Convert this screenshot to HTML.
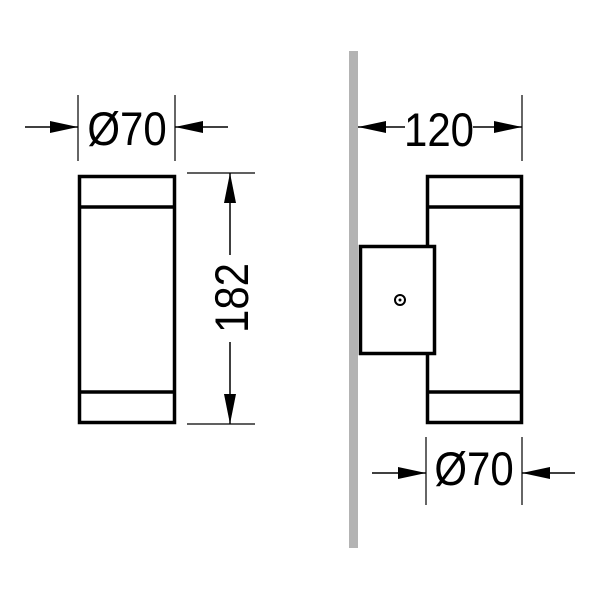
<!DOCTYPE html>
<html><head><style>body{margin:0;background:#fff}</style></head><body>
<svg width="600" height="600" xmlns="http://www.w3.org/2000/svg" style="display:block">
<rect x="0" y="0" width="600" height="600" fill="#fff"/>
<g font-family="Liberation Sans, sans-serif" font-size="42" fill="#000">
<!-- Left view -->
<rect x="79.5" y="176.5" width="95" height="246" fill="none" stroke="#000" stroke-width="3.5"/>
<line x1="79" y1="207" x2="175" y2="207" stroke="#000" stroke-width="3.5"/>
<line x1="79" y1="392" x2="175" y2="392" stroke="#000" stroke-width="3.5"/>
<line x1="78" y1="95" x2="78" y2="161" stroke="#000" stroke-width="1.2"/>
<line x1="175" y1="95" x2="175" y2="161" stroke="#000" stroke-width="1.2"/>
<line x1="25" y1="127" x2="78" y2="127" stroke="#000" stroke-width="1.5"/>
<polygon points="78,127 50,121 50,133"/>
<line x1="175" y1="127" x2="228" y2="127" stroke="#000" stroke-width="1.5"/>
<polygon points="175,127 203,121 203,133"/>
<text x="0" y="0" text-anchor="middle" transform="translate(127,145) scale(1,1.13)">Ø70</text>
<line x1="187" y1="173" x2="255" y2="173" stroke="#000" stroke-width="1.2"/>
<line x1="187" y1="424" x2="255" y2="424" stroke="#000" stroke-width="1.2"/>
<line x1="230" y1="173" x2="230" y2="255" stroke="#000" stroke-width="1.5"/>
<line x1="230" y1="342" x2="230" y2="424" stroke="#000" stroke-width="1.5"/>
<polygon points="230,173 224,203 236,203"/>
<polygon points="230,424 224,394 236,394"/>
<text x="0" y="0" text-anchor="middle" transform="translate(248,298) rotate(-90) scale(1,1.13)">182</text>
<!-- Wall -->
<rect x="349" y="51" width="9" height="497" fill="#b3b3b3"/>
<!-- Right view -->
<rect x="427.5" y="176.5" width="94" height="246" fill="#fff" stroke="#000" stroke-width="3.5"/>
<line x1="427" y1="207" x2="522" y2="207" stroke="#000" stroke-width="3.5"/>
<line x1="427" y1="392" x2="522" y2="392" stroke="#000" stroke-width="3.5"/>
<rect x="360.5" y="246.5" width="74" height="107" fill="#fff" stroke="#000" stroke-width="3.5"/>
<circle cx="400" cy="300" r="5" fill="none" stroke="#000" stroke-width="2"/>
<circle cx="400" cy="300" r="1.5"/>
<line x1="522" y1="95" x2="522" y2="161" stroke="#000" stroke-width="1.2"/>
<line x1="358" y1="127" x2="405" y2="127" stroke="#000" stroke-width="1.5"/>
<polygon points="358,127 386,121 386,133"/>
<line x1="473" y1="127" x2="522" y2="127" stroke="#000" stroke-width="1.5"/>
<polygon points="522,127 494,121 494,133"/>
<text x="0" y="0" text-anchor="middle" transform="translate(439,146) scale(1,1.13)">120</text>
<line x1="426" y1="437" x2="426" y2="505" stroke="#000" stroke-width="1.2"/>
<line x1="522" y1="437" x2="522" y2="505" stroke="#000" stroke-width="1.2"/>
<line x1="372" y1="473" x2="426" y2="473" stroke="#000" stroke-width="1.5"/>
<polygon points="426,473 398,467 398,479"/>
<line x1="522" y1="473" x2="575" y2="473" stroke="#000" stroke-width="1.5"/>
<polygon points="522,473 550,467 550,479"/>
<text x="0" y="0" text-anchor="middle" transform="translate(474,485) scale(1,1.13)">Ø70</text>
</g>
</svg>
</body></html>
